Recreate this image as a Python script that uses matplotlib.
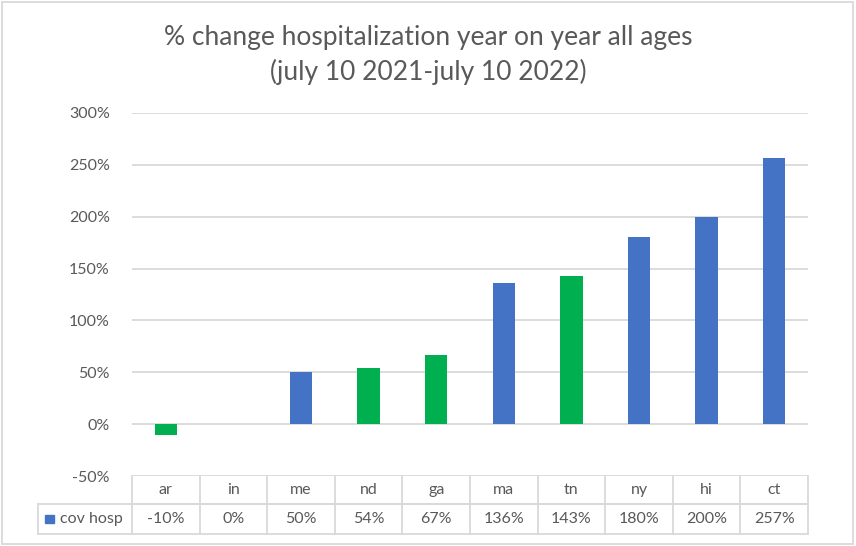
import matplotlib.pyplot as plt
from matplotlib.patches import Rectangle

states = ["ar", "in", "me", "nd", "ga", "ma", "tn", "ny", "hi", "ct"]
pct_change = [-10, 0, 50, 54, 67, 136, 143, 180, 200, 257]
bar_colors = ["#00B050", "#00B050", "#4472C4", "#00B050", "#00B050",
              "#4472C4", "#00B050", "#4472C4", "#4472C4", "#4472C4"]
series_name = "cov hosp"
y_ticks = [-50, 0, 50, 100, 150, 200, 250, 300]

plt.rcParams["font.family"] = ["Lato", "DejaVu Sans"]
txt = "#595959"
grid = "#D9D9D9"

fig = plt.figure(figsize=(8.56, 5.46), dpi=100)
fig.patches.append(Rectangle((2 / 856, 2 / 546), 851 / 856, 542 / 546,
                             transform=fig.transFigure, fill=False,
                             edgecolor=grid, linewidth=1.3))

ax = fig.add_axes([132 / 856, 70 / 546, 676 / 856, 363 / 546])
x = range(len(states))
ax.bar(x, pct_change, width=0.33, color=bar_colors, zorder=3)
ax.set_xlim(-0.5, len(states) - 0.5)
ax.set_ylim(-50, 300)
ax.set_yticks(y_ticks)
ax.set_yticklabels([f"{v}%" for v in y_ticks], color=txt, fontsize=11.5)
ax.tick_params(axis="y", length=0, pad=16)
ax.set_xticks([])
ax.grid(axis="y", color=grid, linewidth=1.3, zorder=0)
for s in ax.spines.values():
    s.set_visible(False)

fig.text(0.5, 1 - 38 / 546, "% change hospitalization year on year all ages",
         ha="center", va="center", fontsize=19, color=txt)
fig.text(0.5, 1 - 72 / 546, "(july 10 2021-july 10 2022)",
         ha="center", va="center", fontsize=19, color=txt)

# data table under the axes
tr = ax.get_xaxis_transform()
r1 = -28 / 363
r2 = -58 / 363
left = -0.5 - 94 / 67.6
kw = dict(color=grid, linewidth=1.3, transform=tr, clip_on=False)
ax.plot([-0.5, len(states) - 0.5], [r1, r1], **kw)
ax.plot([left, len(states) - 0.5], [r1, r1], **kw)
ax.plot([left, len(states) - 0.5], [r2, r2], **kw)
ax.plot([left, left], [r1, r2], **kw)
for i in range(len(states) + 1):
    ax.plot([i - 0.5, i - 0.5], [0, r2], **kw)
for i, (s, v) in enumerate(zip(states, pct_change)):
    ax.text(i, r1 / 2, s, ha="center", va="center", fontsize=11.5,
            color=txt, transform=tr)
    ax.text(i, (r1 + r2) / 2, f"{v}%", ha="center", va="center",
            fontsize=11.5, color=txt, transform=tr)
ax.add_patch(Rectangle((left + 0.1, (r1 + r2) / 2 - 0.012), 0.13, 0.024,
                       color="#4472C4", transform=tr, clip_on=False))
ax.text(left + 0.32, (r1 + r2) / 2, series_name, ha="left", va="center",
        fontsize=11.5, color=txt, transform=tr)

fig.savefig("out.png", dpi=100)
